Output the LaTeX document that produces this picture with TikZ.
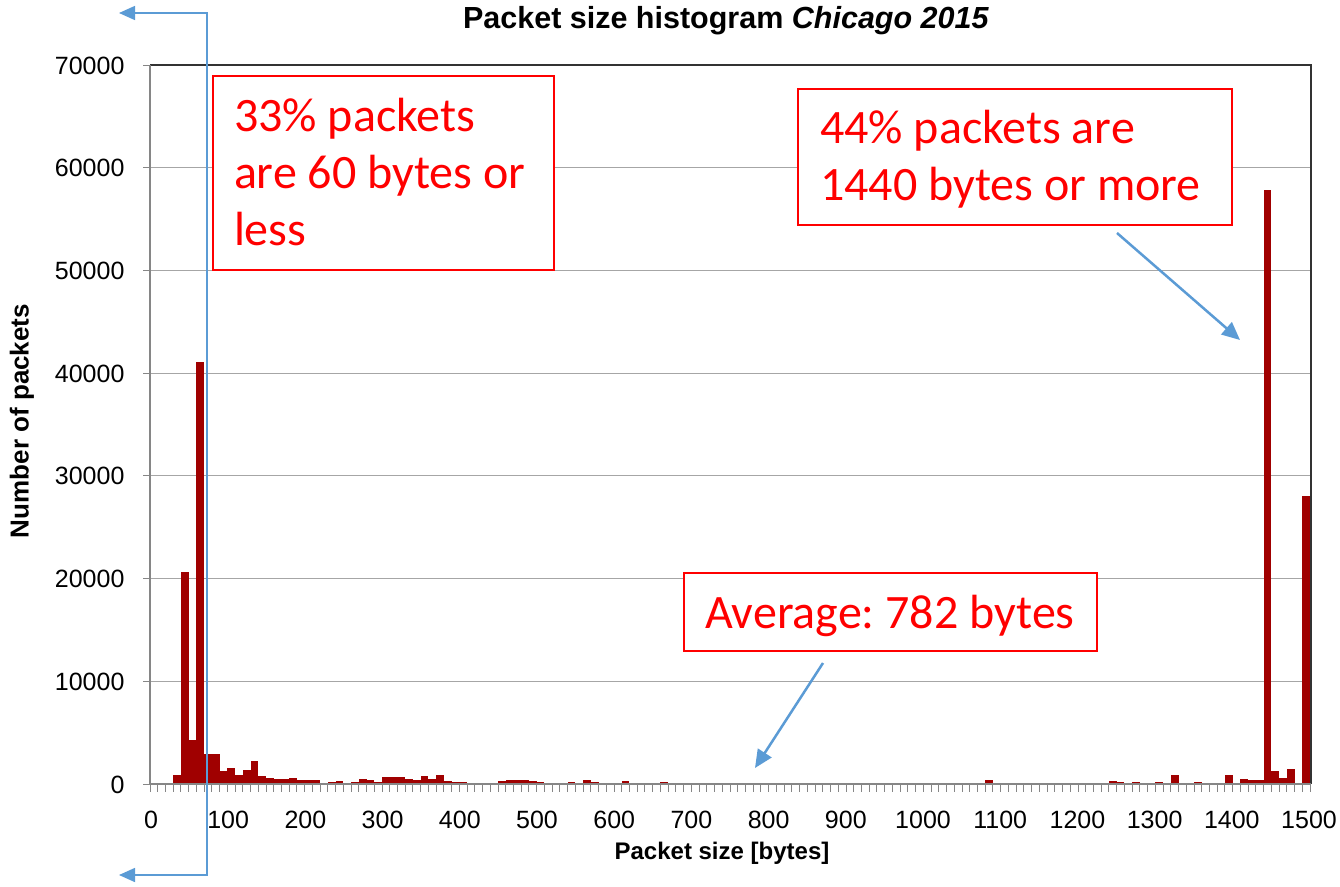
\documentclass[tikz,border=0pt]{standalone}
\usepackage{fontspec}
\setmainfont{Liberation Sans}
\newfontfamily\calibri{Carlito}
\usetikzlibrary{arrows.meta}
\definecolor{barred}{RGB}{160,0,0}
\definecolor{ablue}{RGB}{91,155,213}
\definecolor{gridgray}{RGB}{166,166,166}
\definecolor{axisgray}{RGB}{134,134,134}
\definecolor{boxred}{RGB}{255,0,0}
\begin{document}
\begin{tikzpicture}[x=1pt,y=-1pt,
  grid line/.style={gridgray, line width=1.2pt},
  axis line/.style={axisgray, line width=2pt},
  tickmark/.style={axisgray, line width=1pt},
  ticklabel/.style={font=\fontsize{25}{30}\selectfont},
  axistitle/.style={font=\bfseries\fontsize{24}{28}\selectfont},
  annot/.style={draw=boxred, line width=1.5pt, fill=white, text=boxred,
    font=\calibri\fontsize{48}{56.7}\selectfont, align=flush left, inner sep=0pt},
  annoarrow/.style={ablue, line width=2.5pt, -{Triangle[length=18pt,width=16pt]}},
  bracket/.style={ablue, line width=1.5pt,
    {Triangle[length=16pt,width=14pt]}-{Triangle[length=16pt,width=14pt]}}
]
\useasboundingbox (0,0) rectangle (1340,886);
\fill[white] (0,0) rectangle (1340,886);

% grid lines
\foreach \v in {1,...,6}
  \draw[grid line] (150,{784-\v*102.714}) -- (1311,{784-\v*102.714});

% bars
\begin{scope}[shift={(150pt,-784pt)}, x=7.7333pt, y=1.02714pt]
\foreach \k/\v in {3/9,4/206,5/43,6/411,7/29,8/29,9/13,10/15.6,11/9,12/13.6,13/22,14/7.8,15/5.5,16/4.5,17/4.5,18/6,19/4,20/4.2,21/4.2,22/1,23/2,24/2.6,25/1.3,26/2.3,27/4.9,28/3.6,29/2,30/6.5,31/7.2,32/6.5,33/4.5,34/3.9,35/7.5,36/5.2,37/8.8,38/2.6,39/1.6,40/1.6,41/1.3,42/1,43/1.3,44/1.3,45/3.2,46/3.6,47/3.9,48/4.2,49/3.2,50/1.6,51/1.3,52/0.3,53/0.3,54/2,55/0.3,56/3.6,57/2.3,58/0.3,59/0.5,60/0.5,61/2.9,62/0.3,63/0.3,64/0.5,65/0.3,66/1.6,68/0.5,69/0.6,70/0.6,71/0.3,72/0.3,73/0.5,74/0.3,75/0.6,76/0.5,77/0.3,78/0.3,79/0.3,80/0.3,81/0.3,82/0.3,83/0.3,84/0.3,85/0.5,86/0.3,87/0.3,88/0.5,89/0.3,90/0.3,91/0.3,92/0.5,93/0.3,94/0.5,95/0.3,96/0.3,97/0.3,98/0.3,99/0.6,100/0.6,101/0.3,102/0.3,103/0.6,104/0.6,105/0.3,106/1.3,107/0.3,108/3.9,109/0.3,110/0.6,111/0.3,112/0.3,113/0.3,114/0.5,115/0.8,116/0.3,117/0.5,118/0.3,119/0.6,120/0.6,121/0.8,122/0.3,123/0.6,124/2.6,125/1.6,126/0.6,127/2.3,128/0.6,130/1.6,131/1,132/8.8,133/0.3,134/1.3,135/2.3,136/0.3,138/0.6,139/9.1,141/4.9,142/3.6,143/3.6,144/578,145/13,146/6,147/14.6,149/280}
  \fill[barred] (\k,0) rectangle ({\k+1},\v);
% x minor ticks
\foreach \k in {0,...,150}
  \draw[tickmark] (\k,0) -- (\k,-7.8);
\end{scope}

% axes and frame
\draw[black!80, line width=1.5pt] (150,65) -- (1311,65) -- (1311,784);
\draw[axis line] (150,65) -- (150,784);
\draw[axis line] (150,784) -- (1311,784);
\foreach \v in {0,...,7}
  \draw[tickmark] (143,{784-\v*102.714}) -- (150,{784-\v*102.714});

% tick labels
\foreach \i/\lab in {0/0,1/10000,2/20000,3/30000,4/40000,5/50000,6/60000,7/70000}
  \node[ticklabel, anchor=base east] (yl\i) at (128,{784-\i*102.714+9}) {\lab};
\foreach \i [evaluate=\i as \lab using int(\i*100)] in {0,...,15}
  \node[ticklabel, anchor=base] (xl\i) at ({151+\i*77.2},828) {\lab};

% titles
\node[anchor=base, font=\bfseries\fontsize{30.5}{35}\selectfont] (title) at (726,28.6)
  {Packet size histogram \textit{Chicago 2015}};
\node[axistitle] (xtitle) at (722,853) {Packet size [bytes]};
\node[axistitle, font=\bfseries\fontsize{26}{30}\selectfont, rotate=90] (ytitle) at (22,421) {Number of packets};

% annotation boxes
\node[annot, minimum width=341pt, minimum height=194pt, text width=299pt, text height=31pt] (b1)
  at (383.5,173) {33\% packets\\are 60 bytes or\\less};
\node[annot, minimum width=434pt, minimum height=136pt, text width=390pt, text height=38pt] (b2)
  at (1015,157) {44\% packets are\\1440~bytes~or~more};
\node[annot, minimum width=413pt, minimum height=78pt, text width=371pt, text depth=0pt] (b3)
  at (890.5,612) {Average:~782~bytes};

% arrows
\coordinate (a2s) at (1117,233);
\coordinate (a2e) at (1240,340);
\coordinate (a3s) at (823,663);
\coordinate (a3e) at (755,768);
\draw[annoarrow] (a2s) -- (a2e);
\draw[annoarrow] (a3s) -- (a3e);

% blue bracket line
\coordinate (ltop) at (119,13);
\coordinate (ctop) at (207,13);
\coordinate (cbot) at (207,875);
\coordinate (lbot) at (119,875);
\draw[bracket] (ltop) -- (ctop) -- (cbot) -- (lbot);
\end{tikzpicture}
\end{document}
